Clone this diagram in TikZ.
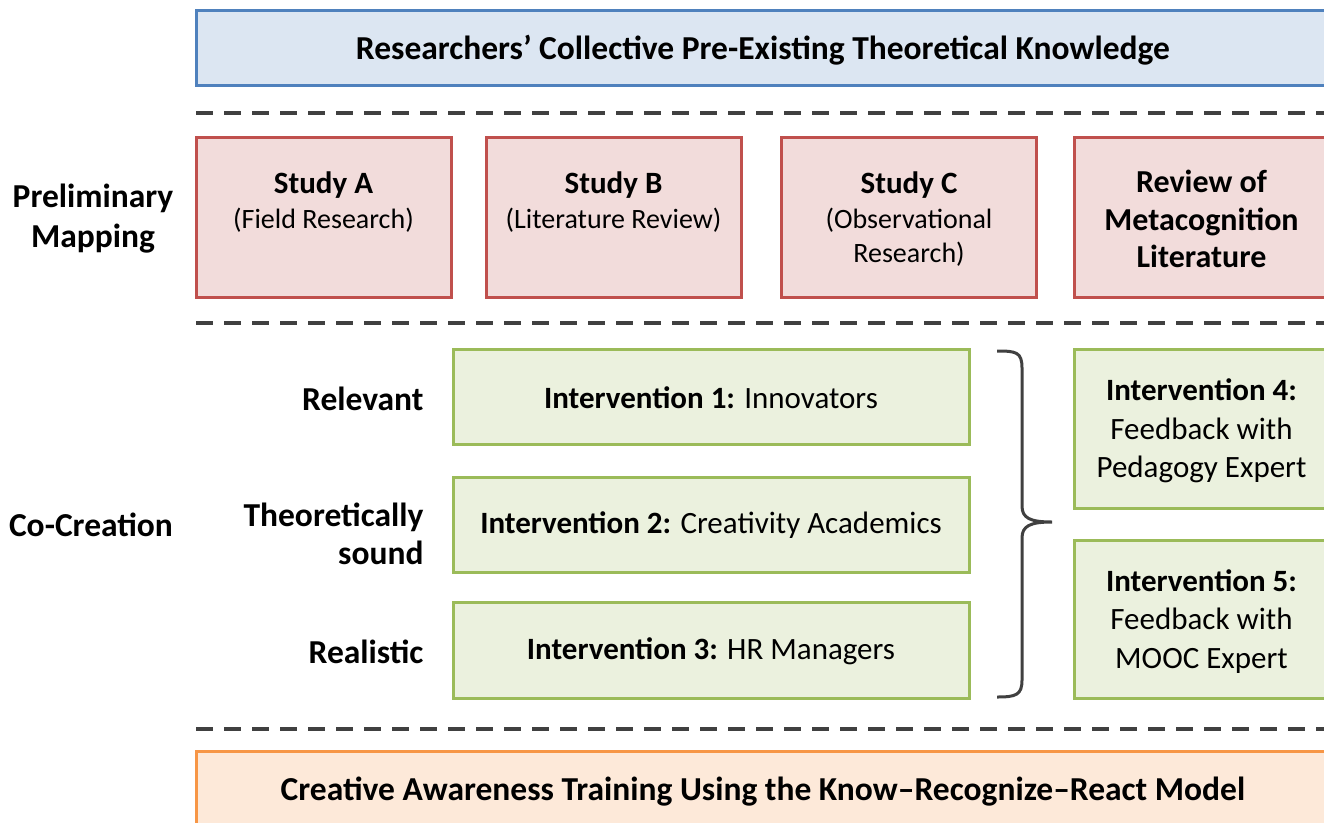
\documentclass[tikz,border=0pt]{standalone}
\usepackage{fontspec}
\setmainfont{Carlito}
\definecolor{bbord}{HTML}{4F81BD}
\definecolor{bfill}{HTML}{DCE6F2}
\definecolor{rbord}{HTML}{C0504D}
\definecolor{rfill}{HTML}{F2DCDB}
\definecolor{gbord}{HTML}{9BBB59}
\definecolor{gfill}{HTML}{EBF1DE}
\definecolor{obord}{HTML}{F79646}
\definecolor{ofill}{HTML}{FDE9D9}
\definecolor{dgray}{HTML}{404040}
\begin{document}
\begin{tikzpicture}[x=1pt,y=-1pt,
  box/.style={rectangle, line width=3pt, inner sep=0pt},
  bluebox/.style={box, draw=bbord, fill=bfill},
  redbox/.style={box, draw=rbord, fill=rfill, minimum width=255pt, minimum height=160pt},
  greenbox/.style={box, draw=gbord, fill=gfill, align=center, font=\fontsize{31}{38.5}\selectfont},
  orangebox/.style={box, draw=obord, fill=ofill},
  txt/.style={align=center, font=\fontsize{28}{34.5}\selectfont},
  side/.style={font=\bfseries\fontsize{33.5}{39}\selectfont},
  sep/.style={draw=dgray, line width=4.5pt, dash pattern=on 17pt off 11pt},
  bracestyle/.style={draw=dgray, line width=3pt},
  shifttext/.style={text depth=#1pt}
]
\useasboundingbox (0,0) rectangle (1324,822);
\clip (0,0) rectangle (1324,822);

% top box
\node[bluebox, minimum width=1134pt, minimum height=75pt, font=\bfseries\fontsize{33.5}{40}\selectfont] (top) at (763,47.5) {};
\node[font=\bfseries\fontsize{33.5}{40}\selectfont] (topt) at (763,50.5) {Researchers’ Collective Pre-Existing Theoretical Knowledge};

% separators
\draw[sep] (196,113) -- (1324,113);
\draw[sep] (196,323) -- (1324,323);
\draw[sep] (196,729) -- (1324,729);

% preliminary mapping
\node[side, align=center, font=\bfseries\fontsize{33.5}{40}\selectfont] (pm) at (93,219) {Preliminary\\Mapping};
\node[redbox] (sa) at (323.5,217) {};
\node[redbox] (sb) at (613.5,217) {};
\node[redbox] (sc) at (909,217) {};
\node[redbox] (rv) at (1201.5,217) {};
\node[txt] (sat) at (323.5,202) {{\bfseries\fontsize{31}{34.5}\selectfont Study A}\\(Field Research)};
\node[txt] (sbt) at (613.5,202) {{\bfseries\fontsize{31}{34.5}\selectfont Study B}\\(Literature Review)};
\node[txt] (sct) at (909,219.5) {{\bfseries\fontsize{31}{34.5}\selectfont Study C}\\(Observational\\Research)};
\node[txt, font=\bfseries\fontsize{32}{37.5}\selectfont] (rvt) at (1201.5,219) {Review of\\Metacognition\\Literature};

% co-creation
\node[side] (cc) at (91,525) {Co-Creation};
\node[side, anchor=east] (rel) at (427,399) {Relevant};
\node[side, anchor=east, align=right, font=\bfseries\fontsize{33.5}{38}\selectfont] (ths) at (427,534) {Theoretically\\sound};
\node[side, anchor=east] (rea) at (427,652) {Realistic};

\node[greenbox, minimum width=516pt, minimum height=95pt] (i1) at (711,396.5) {};
\node[greenbox, minimum width=516pt, minimum height=95pt] (i2) at (711,524.5) {};
\node[greenbox, minimum width=516pt, minimum height=96pt] (i3) at (711,650) {};
\node[greenbox, minimum width=255pt, minimum height=159pt] (i4) at (1201.5,428.5) {};
\node[greenbox, minimum width=255pt, minimum height=158pt] (i5) at (1201.5,619) {};
\node[align=center, font=\fontsize{31}{38.5}\selectfont] (i1t) at (711,398) {\textbf{Intervention 1:} Innovators};
\node[align=center, font=\fontsize{31}{38.5}\selectfont] (i2t) at (711,525.5) {\textbf{Intervention 2:} Creativity Academics};
\node[align=center, font=\fontsize{31}{38.5}\selectfont] (i3t) at (711,651.5) {\textbf{Intervention 3:} HR Managers};
\node[align=center, font=\fontsize{31}{38.5}\selectfont] (i4t) at (1201.5,431) {\textbf{Intervention 4:}\\Feedback with\\Pedagogy Expert};
\node[align=center, font=\fontsize{31}{38.5}\selectfont] (i5t) at (1201.5,621.5) {\textbf{Intervention 5:}\\Feedback with\\MOOC Expert};

% brace
\coordinate (bt) at (997,351);
\coordinate (bm) at (1052,522);
\coordinate (bb) at (997,697);
\draw[bracestyle] (bt) .. controls (1016,351) and (1022,352) .. (1022,368)
  -- (1022,506) .. controls (1022,518) and (1030,522) .. (bm)
  (1052,522) .. controls (1030,522) and (1022,526) .. (1022,538)
  -- (1022,680) .. controls (1022,695) and (1016,697) .. (bb);

% bottom box
\node[orangebox, minimum width=1134pt, minimum height=76pt] (bot) at (763,789) {};
\node[font=\bfseries\fontsize{33.5}{40}\selectfont] (bott) at (763,792) {Creative Awareness Training Using the Know–Recognize–React Model};
\end{tikzpicture}
\end{document}
